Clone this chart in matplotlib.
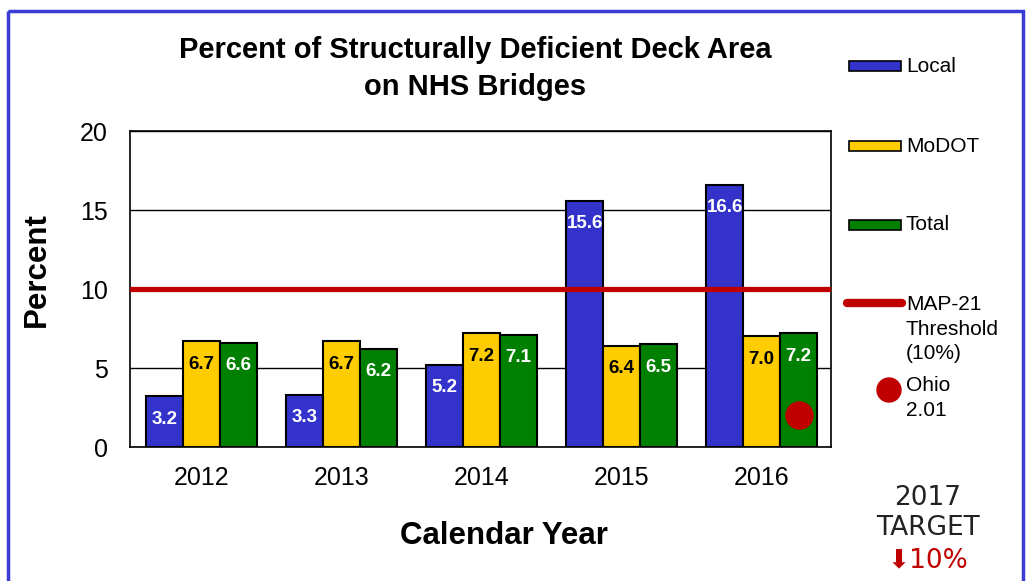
import matplotlib
matplotlib.use('Agg')
import matplotlib.pyplot as plt
from matplotlib.patches import Rectangle, Circle
from matplotlib.lines import Line2D
import numpy as np

plt.rcParams['font.family'] = ['Liberation Sans', 'DejaVu Sans']

years = ['2012', '2013', '2014', '2015', '2016']
local = [3.2, 3.3, 5.2, 15.6, 16.6]
modot = [6.7, 6.7, 7.2, 6.4, 7.0]
total = [6.6, 6.2, 7.1, 6.5, 7.2]
threshold = 10
ohio_value = 2.01
series_names = ['Local', 'MoDOT', 'Total']
series_colors = ['#3333CC', '#FFCC00', '#008000']
label_colors = ['white', 'black', 'white']

fig = plt.figure(figsize=(10.33, 5.81), dpi=100)
ax = fig.add_axes([0.1258, 0.2306, 0.6787, 0.5439])

x = np.arange(len(years))
width = 0.264
for i, (vals, name) in enumerate(zip([local, modot, total], series_names)):
    pos = x + (i - 1) * width
    ax.bar(pos, vals, width, color=series_colors[i], edgecolor='black', linewidth=1.5, zorder=3)
    for xp, v in zip(pos, vals):
        ax.annotate(f'{v:.1f}', (xp, v), xytext=(0, -16.5), textcoords='offset points',
                    ha='center', va='center', fontsize=13.5, fontweight='bold',
                    color=label_colors[i], zorder=5)

ax.axhline(threshold, color='#C00000', linewidth=3.8, zorder=4)
ax.scatter([x[-1] + width], [ohio_value], s=420, color='#C00000', zorder=6, linewidths=0)

ax.set_xlim(-0.511, 4.496)
ax.set_ylim(0, 20)
ax.set_yticks([0, 5, 10, 15, 20])
ax.set_xticks(x)
ax.set_xticklabels(years)
ax.tick_params(axis='y', length=0, pad=16, labelsize=18)
ax.tick_params(axis='x', length=0, pad=14, labelsize=18)
ax.grid(axis='y', color='black', linewidth=1, zorder=0)
for sp in ax.spines.values():
    sp.set_linewidth(1.2)
ax.set_ylabel('Percent', fontsize=22.5, fontweight='bold', va='center')
ax.yaxis.set_label_coords(-0.133, 0.56)
ax.set_xlabel('Calendar Year', fontsize=22.5, fontweight='bold', va='center')
ax.xaxis.set_label_coords(0.534, -0.282)

fig.text(0.46, 0.882, 'Percent of Structurally Deficient Deck Area\non NHS Bridges',
         ha='center', va='center', fontsize=21, fontweight='bold', linespacing=1.42)

# legend drawn by hand, in pixel coordinates of the figure
lax = fig.add_axes([0, 0, 1, 1], facecolor='none')
lax.set_xlim(0, 1033)
lax.set_ylim(581, 0)
lax.axis('off')
leg_y = [66, 146, 225]
for yy, c, name in zip(leg_y, series_colors, series_names):
    lax.add_patch(Rectangle((849, yy - 5), 52, 10, facecolor=c, edgecolor='black', linewidth=1.2))
    lax.text(906, yy, name, fontsize=15, va='center', ha='left')
lax.add_line(Line2D([847, 902], [303, 303], color='#C00000', linewidth=6, solid_capstyle='round'))
lax.text(906, 295, 'MAP-21\nThreshold\n(10%)', fontsize=15, va='top', ha='left', linespacing=1.38)
lax.add_patch(Circle((889, 390), 12, color='#C00000'))
lax.text(906, 376, 'Ohio\n2.01', fontsize=15, va='top', ha='left', linespacing=1.38)

lax.text(928, 498, '2017', fontsize=19, ha='center', va='center', color='#222222',
         family=['DejaVu Sans'])
lax.text(928, 528, 'TARGET', fontsize=19, ha='center', va='center', color='#222222',
         family=['DejaVu Sans'])
lax.text(928, 560, '⬇10%', fontsize=19, ha='center', va='center', color='#C00000',
         family=['DejaVu Sans'])

# blue frame around the whole slide
lax.add_patch(Rectangle((8, 11), 1015, 620, facecolor='none', edgecolor='#3B3BD6', linewidth=2.5))

fig.savefig('out.png', dpi=100)
